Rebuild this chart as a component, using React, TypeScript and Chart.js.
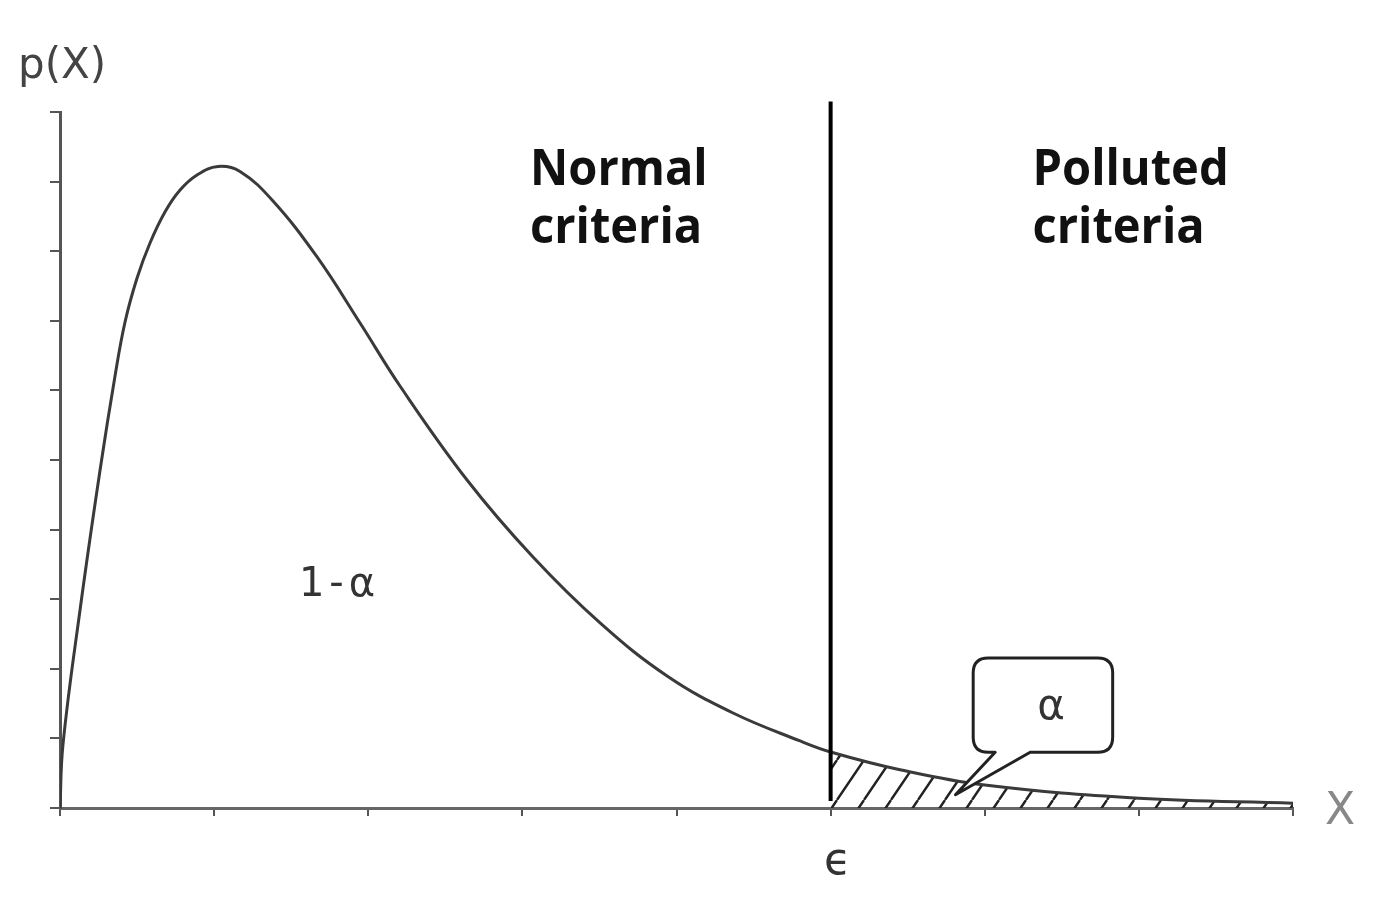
import React, { useEffect, useRef } from "react";
import { Chart, registerables } from "chart.js";

Chart.register(...registerables);

// Curve: x in axis units (0..8), y in axis units (0..10)
const curveX = [0, 0.019, 0.13, 0.26, 0.357, 0.422, 0.5, 0.584, 0.681, 0.779, 0.889, 1.025, 1.168, 1.382, 1.668, 1.947, 2.206, 2.641, 3.069, 3.504, 3.939, 4.367, 4.802, 5.0, 5.45, 6.0, 7.0, 8.0];
const curveY = [0, 0.905, 2.845, 4.856, 6.207, 6.983, 7.615, 8.118, 8.563, 8.879, 9.095, 9.218, 9.146, 8.721, 7.917, 6.968, 6.063, 4.713, 3.606, 2.66, 1.897, 1.365, 0.963, 0.805, 0.55, 0.33, 0.14, 0.07];
const epsilonX = 5;
const epsilonTop = 10.15;
const xTicks = [0, 1, 2, 3, 4, 5, 6, 7, 8];
const yTicks = [0, 1, 2, 3, 4, 5, 6, 7, 8, 9, 10];
const labelNormal = ["Normal", "criteria"];
const labelPolluted = ["Polluted", "criteria"];
const labelOneMinusAlpha = "1-α";
const labelAlpha = "α";
const labelEpsilon = "ϵ";
const labelYAxis = "p(X)";
const labelXAxis = "X";
// callout: tip and box corners in axis units
const calloutTip = { x: 5.81, y: 0.19 };
const calloutBox = { x0: 5.925, x1: 6.83, y0: 0.8, y1: 2.155 };

function makeHatch(): CanvasPattern | string {
  const w = 27, h = 40;
  const c = document.createElement("canvas");
  c.width = w; c.height = h;
  const g = c.getContext("2d");
  if (!g) return "rgba(0,0,0,0.2)";
  g.strokeStyle = "#222";
  g.lineWidth = 2.4;
  g.beginPath();
  for (let k = -1; k <= 1; k++) {
    g.moveTo(k * w, h);
    g.lineTo(k * w + w, 0);
  }
  g.stroke();
  const p = g.createPattern(c, "repeat");
  return p || "rgba(0,0,0,0.2)";
}

export default function App() {
  const ref = useRef<HTMLCanvasElement | null>(null);

  useEffect(() => {
    document.body.style.margin = "0";
    const canvas = ref.current;
    if (!canvas) return;
    const curve = curveX.map((x, i) => ({ x, y: curveY[i] }));
    const tail = curve.filter((p) => p.x >= epsilonX);

    const overlay = {
      id: "overlay",
      afterDatasetsDraw(chart: any) {
        const ctx = chart.ctx;
        const xs = chart.scales.x;
        const ys = chart.scales.y;
        ctx.save();
        // callout
        const tx = xs.getPixelForValue(calloutTip.x);
        const ty = ys.getPixelForValue(calloutTip.y);
        const bx0 = xs.getPixelForValue(calloutBox.x0);
        const bx1 = xs.getPixelForValue(calloutBox.x1);
        const by0 = ys.getPixelForValue(calloutBox.y1);
        const by1 = ys.getPixelForValue(calloutBox.y0);
        const r = 15;
        const aL = bx0 + 22;
        const aR = bx0 + 57;
        ctx.beginPath();
        ctx.moveTo(bx0 + r, by0);
        ctx.lineTo(bx1 - r, by0);
        ctx.quadraticCurveTo(bx1, by0, bx1, by0 + r);
        ctx.lineTo(bx1, by1 - r);
        ctx.quadraticCurveTo(bx1, by1, bx1 - r, by1);
        ctx.lineTo(aR, by1);
        ctx.lineTo(tx, ty);
        ctx.lineTo(aL, by1);
        ctx.lineTo(bx0 + r, by1);
        ctx.quadraticCurveTo(bx0, by1, bx0, by1 - r);
        ctx.lineTo(bx0, by0 + r);
        ctx.quadraticCurveTo(bx0, by0, bx0 + r, by0);
        ctx.closePath();
        ctx.fillStyle = "#fff";
        ctx.fill();
        ctx.strokeStyle = "#222";
        ctx.lineWidth = 3;
        ctx.lineJoin = "round";
        ctx.stroke();

        ctx.fillStyle = "#333";
        ctx.textBaseline = "middle";
        ctx.textAlign = "center";
        ctx.font = "42px 'DejaVu Sans'";
        ctx.fillText(labelAlpha, bx0 + 78, by0 + 50);

        // big labels
        ctx.fillStyle = "#111";
        ctx.textAlign = "left";
        ctx.textBaseline = "alphabetic";
        ctx.font = "bold 50px 'Open Sans'";
        const nx = xs.getPixelForValue(3.05);
        const px = xs.getPixelForValue(6.31);
        const l1 = ys.getPixelForValue(8.95);
        const l2 = ys.getPixelForValue(8.12);
        const drawNarrow = (t: string, x: number, y: number) => {
          ctx.save();
          ctx.translate(x, y);
          ctx.scale(0.94, 1);
          ctx.fillText(t, 0, 0);
          ctx.restore();
        };
        drawNarrow(labelNormal[0], nx, l1);
        drawNarrow(labelNormal[1], nx, l2);
        drawNarrow(labelPolluted[0], px, l1);
        drawNarrow(labelPolluted[1], px, l2);

        ctx.fillStyle = "#333";
        ctx.font = "40px 'DejaVu Sans'";
        (ctx as any).letterSpacing = "5px";
        ctx.fillText(labelOneMinusAlpha, xs.getPixelForValue(1.55), ys.getPixelForValue(3.05));
        (ctx as any).letterSpacing = "0px";

        ctx.textAlign = "center";
        ctx.font = "44px 'DejaVu Sans'";
        ctx.fillText(labelEpsilon, xs.getPixelForValue(epsilonX) + 7, xs.bottom + 58);

        ctx.textAlign = "left";
        ctx.fillStyle = "#444";
        ctx.font = "42px 'DejaVu Sans'";
        ctx.fillText(labelYAxis, 18, 78);

        ctx.fillStyle = "#888";
        ctx.font = "44px 'DejaVu Sans'";
        ctx.fillText(labelXAxis, xs.right + 32, ys.getPixelForValue(0) + 16);
        ctx.restore();
      },
    };

    const chart = new Chart(canvas, {
      type: "line",
      data: {
        datasets: [
          {
            data: tail,
            borderWidth: 0,
            borderColor: "transparent",
            backgroundColor: makeHatch() as any,
            fill: "origin",
            pointRadius: 0,
            tension: 0.4,
            order: 3,
          },
          {
            data: curve,
            borderColor: "#3a3a3a",
            borderWidth: 3,
            fill: false,
            pointRadius: 0,
            tension: 0.4,
            order: 2,
          },
          {
            data: [
              { x: epsilonX, y: 0.1 },
              { x: epsilonX, y: epsilonTop },
            ],
            borderColor: "#000",
            borderWidth: 4,
            pointRadius: 0,
            fill: false,
            clip: false as any,
            order: 1,
          },
        ],
      },
      options: {
        animation: false,
        responsive: false,
        devicePixelRatio: 1,
        layout: { padding: { left: 50, right: 87, top: 112, bottom: 82 } },
        plugins: { legend: { display: false }, tooltip: { enabled: false } },
        scales: {
          x: {
            type: "linear",
            min: 0,
            max: 8,
            afterBuildTicks: (s: any) => {
              s.ticks = xTicks.map((v) => ({ value: v }));
            },
            ticks: { display: false },
            grid: { drawOnChartArea: false, drawTicks: true, tickLength: 8, color: "#555", lineWidth: 2 },
            border: { color: "#666", width: 3 },
          },
          y: {
            type: "linear",
            min: 0,
            max: 10,
            afterBuildTicks: (s: any) => {
              s.ticks = yTicks.map((v) => ({ value: v }));
            },
            ticks: { display: false },
            grid: { drawOnChartArea: false, drawTicks: true, tickLength: 10, color: "#555", lineWidth: 2 },
            border: { color: "#555", width: 3 },
          },
        },
      },
      plugins: [overlay],
    });
    return () => chart.destroy();
  }, []);

  return (
    <div style={{ width: 1380, height: 898, background: "#fff" }}>
      <canvas ref={ref} width={1380} height={898} />
    </div>
  );
}
